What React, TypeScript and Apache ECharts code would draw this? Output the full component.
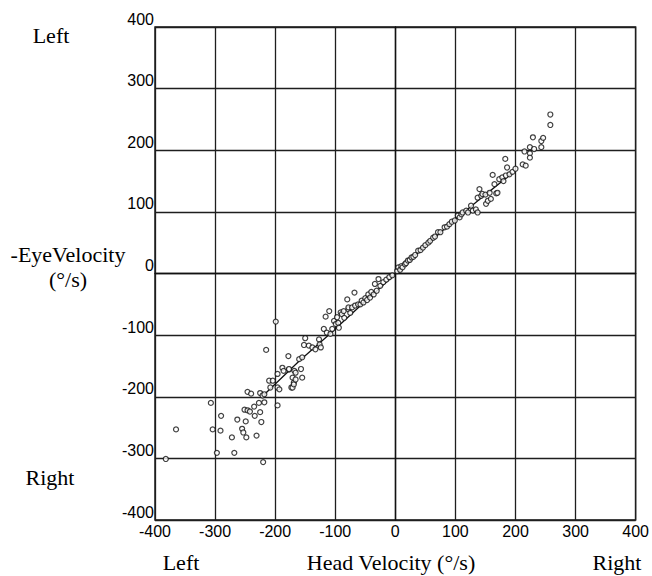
import React, { useEffect, useRef } from "react";
import * as echarts from "echarts";

// Head velocity (°/s) of each measured sample
const headVelocity: number[] = [
  -382, -365, -307, -304, -297, -291, -290, -272, -268, -263, -255, -253, -251, -249, -248, -246, -246, -242, -240,
  -235, -234, -231, -227, -225, -225, -223, -221, -220, -218, -218, -215, -210, -208, -204, -199, -196, -196, -196,
  -193, -188, -186, -178, -177, -177, -173, -171, -171, -169, -169, -168, -166, -166, -160, -157, -155, -155, -152,
  -150, -144, -138, -133, -127, -126, -124, -119, -116, -114, -110, -108, -105, -102, -99, -97, -95, -94, -91, -89,
  -86, -85, -80, -78, -78, -75, -72, -68, -67, -62, -58, -56, -53, -50, -47, -45, -42, -40, -36, -34, -31, -28, -25,
  -20, -15, -10, -5, 3, 5, 8, 10, 12, 16, 18, 21, 24, 27, 30, 33, 38, 42, 46, 50, 55, 58, 63, 66, 71, 75, 82, 86,
  90, 94, 99, 104, 107, 110, 112, 118, 121, 126, 129, 134, 137, 137, 140, 143, 145, 150, 151, 154, 157, 159, 162,
  165, 168, 170, 173, 178, 180, 183, 184, 186, 190, 195, 200, 212, 215, 217, 224, 224, 224, 229, 231, 243, 243, 246,
  258, 258,
];

// -Eye velocity (°/s) of each measured sample, same order
const eyeVelocity: number[] = [
  -301, -253, -210, -253, -291, -255, -231, -266, -291, -237, -252, -258, -221, -240, -266, -222, -192, -224, -195,
  -216, -231, -263, -210, -225, -194, -241, -198, -306, -209, -196, -124, -174, -185, -174, -78, -214, -185, -163,
  -188, -153, -158, -134, -156, -155, -185, -169, -185, -177, -180, -158, -161, -172, -139, -155, -136, -169, -116,
  -105, -117, -120, -123, -107, -115, -120, -90, -70, -96, -61, -98, -90, -77, -82, -71, -80, -88, -63, -66, -61,
  -72, -42, -58, -55, -64, -55, -31, -52, -50, -50, -44, -47, -40, -43, -34, -39, -30, -34, -17, -28, -9, -20,
  -14, -10, -6, -3, 4, 10, 6, 12, 10, 15, 17, 21, 22, 26, 27, 30, 37, 38, 42, 46, 50, 53, 58, 60, 67, 67, 75, 76,
  80, 84, 86, 94, 91, 96, 99, 102, 99, 110, 102, 104, 99, 123, 137, 126, 129, 128, 113, 118, 131, 121, 160,
  145, 130, 131, 153, 156, 150, 186, 159, 172, 161, 165, 170, 177, 198, 175, 205, 195, 188, 221, 202, 215, 205, 220,
  258, 241,
];

// Fitted curve through the data
const fitHead: number[] = [-222, -160, -110, -50, 0, 50, 100, 150, 195];
const fitEye: number[] = [-200, -142, -99, -45, -1, 45, 88, 128, 163];

const axisTicks: number[] = [-400, -300, -200, -100, 0, 100, 200, 300, 400];

export default function App() {
  const ref = useRef<HTMLDivElement>(null);

  useEffect(() => {
    if (!ref.current) return;
    const chart = echarts.init(ref.current, undefined, { renderer: "svg" });
    const points = headVelocity.map((h, i) => [h, eyeVelocity[i]]);
    const fit = fitHead.map((h, i) => [h, fitEye[i]]);
    const serif = "'Liberation Serif', 'Times New Roman', serif";
    const sans = "'Liberation Sans', Arial, sans-serif";
    const gridLine = { show: true, lineStyle: { color: "#1e1e1e", width: 1.3 } };

    chart.setOption({
      animation: false,
      backgroundColor: "#ffffff",
      grid: {
        left: 155,
        right: 13,
        top: 27,
        bottom: 56,
        show: true,
        borderColor: "#111",
        borderWidth: 1.4,
        backgroundColor: "transparent",
      },
      xAxis: {
        type: "value",
        min: axisTicks[0],
        max: axisTicks[axisTicks.length - 1],
        interval: 100,
        axisLine: { show: true, lineStyle: { color: "#111", width: 1.4 } },
        axisTick: { show: false },
        axisLabel: { fontSize: 16, fontFamily: sans, color: "#000", margin: 3 },
        splitLine: gridLine,
      },
      yAxis: {
        type: "value",
        min: axisTicks[0],
        max: axisTicks[axisTicks.length - 1],
        interval: 100,
        axisLine: { show: true, lineStyle: { color: "#111", width: 1.4 } },
        axisTick: { show: false },
        axisLabel: {
          fontSize: 16,
          fontFamily: sans,
          color: "#000",
          margin: 1,
          verticalAlign: "bottom",
        },
        splitLine: gridLine,
      },
      series: [
        {
          type: "line",
          data: fit,
          showSymbol: false,
          symbol: "none",
          lineStyle: { color: "#111", width: 1.3 },
          z: 3,
        },
        {
          type: "scatter",
          data: points,
          symbol: "circle",
          symbolSize: 5,
          itemStyle: { color: "#ffffff", borderColor: "#111", borderWidth: 1.2 },
          z: 4,
        },
      ],
      graphic: [
        { type: "text", x: 51, y: 35, style: { text: "Left", fontSize: 22, fontFamily: serif, fill: "#000", align: "center", verticalAlign: "middle" } },
        { type: "text", x: 68, y: 254, style: { text: "-EyeVelocity", fontSize: 22, fontFamily: serif, fill: "#000", align: "center", verticalAlign: "middle" } },
        { type: "text", x: 68, y: 279, style: { text: "(°/s)", fontSize: 22, fontFamily: serif, fill: "#000", align: "center", verticalAlign: "middle" } },
        { type: "text", x: 50, y: 477, style: { text: "Right", fontSize: 22, fontFamily: serif, fill: "#000", align: "center", verticalAlign: "middle" } },
        { type: "text", x: 181, y: 562, style: { text: "Left", fontSize: 22, fontFamily: serif, fill: "#000", align: "center", verticalAlign: "middle" } },
        { type: "text", x: 391, y: 562, style: { text: "Head Velocity (°/s)", fontSize: 22, fontFamily: serif, fill: "#000", align: "center", verticalAlign: "middle" } },
        { type: "text", x: 617, y: 562, style: { text: "Right", fontSize: 22, fontFamily: serif, fill: "#000", align: "center", verticalAlign: "middle" } },
      ],
    });

    return () => chart.dispose();
  }, []);

  return (
    <div
      ref={ref}
      style={{ position: "absolute", left: 0, top: 0, width: 652, height: 576, background: "#fff" }}
    />
  );
}
